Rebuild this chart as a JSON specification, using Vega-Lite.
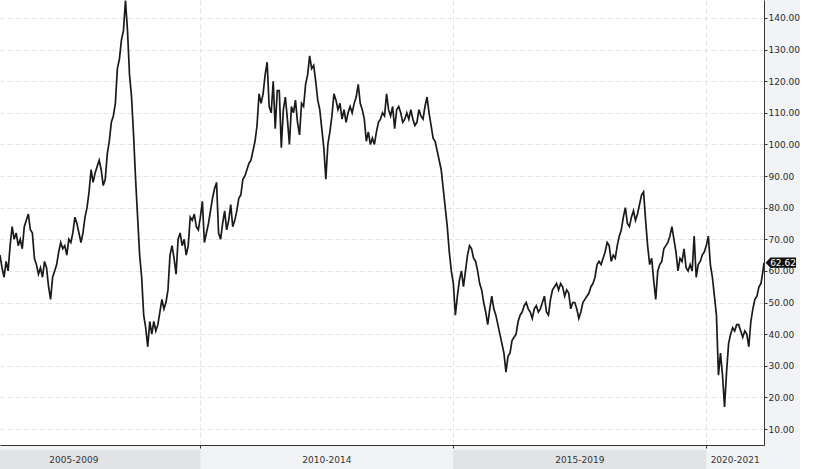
{
  "$schema": "https://vega.github.io/schema/vega-lite/v6.json",
  "background": "#f2f3f5",
  "padding": 0,
  "spacing": 1,
  "config": {
    "font": "DejaVu Sans",
    "axis": {"labelFont": "DejaVu Sans", "labelFontSize": 9, "labelColor": "#2b2b2b", "title": null, "labelOverlap": false, "labelSeparation": 0}
  },
  "datasets": {
    "brent": [
      {"t": 2006.04, "v": 65}, {"t": 2006.08, "v": 61}, {"t": 2006.12, "v": 58}, {"t": 2006.16, "v": 63}, {"t": 2006.20, "v": 60},
      {"t": 2006.24, "v": 68}, {"t": 2006.28, "v": 74}, {"t": 2006.32, "v": 70}, {"t": 2006.36, "v": 72}, {"t": 2006.40, "v": 68},
      {"t": 2006.44, "v": 70}, {"t": 2006.48, "v": 67}, {"t": 2006.52, "v": 74}, {"t": 2006.56, "v": 76}, {"t": 2006.60, "v": 78},
      {"t": 2006.64, "v": 73}, {"t": 2006.68, "v": 72}, {"t": 2006.72, "v": 64}, {"t": 2006.76, "v": 62}, {"t": 2006.80, "v": 59},
      {"t": 2006.84, "v": 61}, {"t": 2006.88, "v": 58}, {"t": 2006.92, "v": 63}, {"t": 2006.96, "v": 61},
      {"t": 2007.00, "v": 55}, {"t": 2007.04, "v": 51}, {"t": 2007.08, "v": 58}, {"t": 2007.12, "v": 60}, {"t": 2007.16, "v": 62},
      {"t": 2007.20, "v": 66}, {"t": 2007.24, "v": 69}, {"t": 2007.28, "v": 67}, {"t": 2007.32, "v": 68}, {"t": 2007.36, "v": 65},
      {"t": 2007.40, "v": 70}, {"t": 2007.44, "v": 69}, {"t": 2007.48, "v": 72}, {"t": 2007.52, "v": 77}, {"t": 2007.56, "v": 75},
      {"t": 2007.60, "v": 72}, {"t": 2007.64, "v": 69}, {"t": 2007.68, "v": 72}, {"t": 2007.72, "v": 77}, {"t": 2007.76, "v": 80},
      {"t": 2007.80, "v": 85}, {"t": 2007.84, "v": 92}, {"t": 2007.88, "v": 88}, {"t": 2007.92, "v": 91}, {"t": 2007.96, "v": 93},
      {"t": 2008.00, "v": 95}, {"t": 2008.04, "v": 92}, {"t": 2008.08, "v": 87}, {"t": 2008.12, "v": 89}, {"t": 2008.16, "v": 97},
      {"t": 2008.20, "v": 101}, {"t": 2008.24, "v": 107}, {"t": 2008.28, "v": 109}, {"t": 2008.32, "v": 113}, {"t": 2008.36, "v": 124},
      {"t": 2008.40, "v": 127}, {"t": 2008.44, "v": 133}, {"t": 2008.48, "v": 136}, {"t": 2008.52, "v": 145.5}, {"t": 2008.56, "v": 136},
      {"t": 2008.60, "v": 122}, {"t": 2008.64, "v": 115}, {"t": 2008.68, "v": 103}, {"t": 2008.72, "v": 89}, {"t": 2008.76, "v": 77},
      {"t": 2008.80, "v": 65}, {"t": 2008.84, "v": 58}, {"t": 2008.88, "v": 46}, {"t": 2008.92, "v": 42}, {"t": 2008.96, "v": 36},
      {"t": 2009.00, "v": 44}, {"t": 2009.04, "v": 40}, {"t": 2009.08, "v": 44}, {"t": 2009.12, "v": 41}, {"t": 2009.16, "v": 43},
      {"t": 2009.20, "v": 47}, {"t": 2009.24, "v": 51}, {"t": 2009.28, "v": 48}, {"t": 2009.32, "v": 50}, {"t": 2009.36, "v": 54},
      {"t": 2009.40, "v": 65}, {"t": 2009.44, "v": 68}, {"t": 2009.48, "v": 64}, {"t": 2009.52, "v": 59}, {"t": 2009.56, "v": 70},
      {"t": 2009.60, "v": 72}, {"t": 2009.64, "v": 68}, {"t": 2009.68, "v": 70}, {"t": 2009.72, "v": 65}, {"t": 2009.76, "v": 68},
      {"t": 2009.80, "v": 77}, {"t": 2009.84, "v": 76}, {"t": 2009.88, "v": 78}, {"t": 2009.92, "v": 74}, {"t": 2009.96, "v": 73},
      {"t": 2010.00, "v": 77}, {"t": 2010.04, "v": 82}, {"t": 2010.08, "v": 69}, {"t": 2010.12, "v": 72}, {"t": 2010.16, "v": 75},
      {"t": 2010.20, "v": 79}, {"t": 2010.24, "v": 83}, {"t": 2010.28, "v": 86}, {"t": 2010.32, "v": 88}, {"t": 2010.36, "v": 72},
      {"t": 2010.40, "v": 70}, {"t": 2010.44, "v": 75}, {"t": 2010.48, "v": 79}, {"t": 2010.52, "v": 73}, {"t": 2010.56, "v": 76},
      {"t": 2010.60, "v": 81}, {"t": 2010.64, "v": 74}, {"t": 2010.68, "v": 76}, {"t": 2010.72, "v": 79}, {"t": 2010.76, "v": 83},
      {"t": 2010.80, "v": 84}, {"t": 2010.84, "v": 89}, {"t": 2010.88, "v": 90}, {"t": 2010.92, "v": 92}, {"t": 2010.96, "v": 94},
      {"t": 2011.00, "v": 95}, {"t": 2011.04, "v": 98}, {"t": 2011.08, "v": 101}, {"t": 2011.12, "v": 106}, {"t": 2011.16, "v": 116},
      {"t": 2011.20, "v": 113}, {"t": 2011.24, "v": 116}, {"t": 2011.28, "v": 122}, {"t": 2011.32, "v": 126}, {"t": 2011.36, "v": 112},
      {"t": 2011.40, "v": 110}, {"t": 2011.44, "v": 120}, {"t": 2011.48, "v": 105}, {"t": 2011.52, "v": 117}, {"t": 2011.56, "v": 117},
      {"t": 2011.60, "v": 99}, {"t": 2011.64, "v": 111}, {"t": 2011.68, "v": 115}, {"t": 2011.72, "v": 108}, {"t": 2011.76, "v": 100},
      {"t": 2011.80, "v": 112}, {"t": 2011.84, "v": 110}, {"t": 2011.88, "v": 114}, {"t": 2011.92, "v": 107}, {"t": 2011.96, "v": 103},
      {"t": 2012.00, "v": 113}, {"t": 2012.04, "v": 112}, {"t": 2012.08, "v": 119}, {"t": 2012.12, "v": 122}, {"t": 2012.16, "v": 128},
      {"t": 2012.20, "v": 124}, {"t": 2012.24, "v": 125}, {"t": 2012.28, "v": 120}, {"t": 2012.32, "v": 114}, {"t": 2012.36, "v": 111},
      {"t": 2012.40, "v": 105}, {"t": 2012.44, "v": 99}, {"t": 2012.48, "v": 89}, {"t": 2012.52, "v": 100}, {"t": 2012.56, "v": 104},
      {"t": 2012.60, "v": 109}, {"t": 2012.64, "v": 116}, {"t": 2012.68, "v": 114}, {"t": 2012.72, "v": 111}, {"t": 2012.76, "v": 113},
      {"t": 2012.80, "v": 108}, {"t": 2012.84, "v": 111}, {"t": 2012.88, "v": 107}, {"t": 2012.92, "v": 110}, {"t": 2012.96, "v": 112},
      {"t": 2013.00, "v": 110}, {"t": 2013.04, "v": 113}, {"t": 2013.08, "v": 115}, {"t": 2013.12, "v": 119}, {"t": 2013.16, "v": 113},
      {"t": 2013.20, "v": 111}, {"t": 2013.24, "v": 108}, {"t": 2013.28, "v": 101}, {"t": 2013.32, "v": 104}, {"t": 2013.36, "v": 100},
      {"t": 2013.40, "v": 102}, {"t": 2013.44, "v": 100}, {"t": 2013.48, "v": 104}, {"t": 2013.52, "v": 107}, {"t": 2013.56, "v": 108},
      {"t": 2013.60, "v": 110}, {"t": 2013.64, "v": 109}, {"t": 2013.68, "v": 116}, {"t": 2013.72, "v": 111}, {"t": 2013.76, "v": 109},
      {"t": 2013.80, "v": 112}, {"t": 2013.84, "v": 105}, {"t": 2013.88, "v": 111}, {"t": 2013.92, "v": 112}, {"t": 2013.96, "v": 110},
      {"t": 2014.00, "v": 107}, {"t": 2014.04, "v": 108}, {"t": 2014.08, "v": 110}, {"t": 2014.12, "v": 108}, {"t": 2014.16, "v": 111},
      {"t": 2014.20, "v": 108}, {"t": 2014.24, "v": 106}, {"t": 2014.28, "v": 107}, {"t": 2014.32, "v": 111}, {"t": 2014.36, "v": 109},
      {"t": 2014.40, "v": 108}, {"t": 2014.44, "v": 112}, {"t": 2014.48, "v": 115}, {"t": 2014.52, "v": 110}, {"t": 2014.56, "v": 106},
      {"t": 2014.60, "v": 102}, {"t": 2014.64, "v": 101}, {"t": 2014.68, "v": 98}, {"t": 2014.72, "v": 95}, {"t": 2014.76, "v": 92},
      {"t": 2014.80, "v": 86}, {"t": 2014.84, "v": 80}, {"t": 2014.88, "v": 74}, {"t": 2014.92, "v": 66}, {"t": 2014.96, "v": 60},
      {"t": 2015.00, "v": 56}, {"t": 2015.04, "v": 46}, {"t": 2015.08, "v": 52}, {"t": 2015.12, "v": 57}, {"t": 2015.16, "v": 60},
      {"t": 2015.20, "v": 55}, {"t": 2015.24, "v": 60}, {"t": 2015.28, "v": 65}, {"t": 2015.32, "v": 68}, {"t": 2015.36, "v": 67},
      {"t": 2015.40, "v": 64}, {"t": 2015.44, "v": 63}, {"t": 2015.48, "v": 60}, {"t": 2015.52, "v": 56}, {"t": 2015.56, "v": 54},
      {"t": 2015.60, "v": 50}, {"t": 2015.64, "v": 47}, {"t": 2015.68, "v": 43}, {"t": 2015.72, "v": 48}, {"t": 2015.76, "v": 52},
      {"t": 2015.80, "v": 48}, {"t": 2015.84, "v": 46}, {"t": 2015.88, "v": 43}, {"t": 2015.92, "v": 40}, {"t": 2015.96, "v": 37},
      {"t": 2016.00, "v": 34}, {"t": 2016.04, "v": 28}, {"t": 2016.08, "v": 33}, {"t": 2016.12, "v": 34}, {"t": 2016.16, "v": 38},
      {"t": 2016.20, "v": 39}, {"t": 2016.24, "v": 40}, {"t": 2016.28, "v": 44}, {"t": 2016.32, "v": 46}, {"t": 2016.36, "v": 47},
      {"t": 2016.40, "v": 49}, {"t": 2016.44, "v": 50}, {"t": 2016.48, "v": 48}, {"t": 2016.52, "v": 47}, {"t": 2016.56, "v": 45},
      {"t": 2016.60, "v": 48}, {"t": 2016.64, "v": 49}, {"t": 2016.68, "v": 47}, {"t": 2016.72, "v": 48}, {"t": 2016.76, "v": 50},
      {"t": 2016.80, "v": 52}, {"t": 2016.84, "v": 47}, {"t": 2016.88, "v": 46}, {"t": 2016.92, "v": 51}, {"t": 2016.96, "v": 54},
      {"t": 2017.00, "v": 55}, {"t": 2017.04, "v": 56}, {"t": 2017.08, "v": 54}, {"t": 2017.12, "v": 56}, {"t": 2017.16, "v": 55},
      {"t": 2017.20, "v": 52}, {"t": 2017.24, "v": 54}, {"t": 2017.28, "v": 53}, {"t": 2017.32, "v": 48}, {"t": 2017.36, "v": 50},
      {"t": 2017.40, "v": 50}, {"t": 2017.44, "v": 48}, {"t": 2017.48, "v": 45}, {"t": 2017.52, "v": 47}, {"t": 2017.56, "v": 50},
      {"t": 2017.60, "v": 51}, {"t": 2017.64, "v": 52}, {"t": 2017.68, "v": 53}, {"t": 2017.72, "v": 55}, {"t": 2017.76, "v": 56},
      {"t": 2017.80, "v": 58}, {"t": 2017.84, "v": 62}, {"t": 2017.88, "v": 63}, {"t": 2017.92, "v": 62}, {"t": 2017.96, "v": 64},
      {"t": 2018.00, "v": 66}, {"t": 2018.04, "v": 69}, {"t": 2018.08, "v": 68}, {"t": 2018.12, "v": 63}, {"t": 2018.16, "v": 65},
      {"t": 2018.20, "v": 64}, {"t": 2018.24, "v": 68}, {"t": 2018.28, "v": 71}, {"t": 2018.32, "v": 73}, {"t": 2018.36, "v": 77},
      {"t": 2018.40, "v": 80}, {"t": 2018.44, "v": 75}, {"t": 2018.48, "v": 74}, {"t": 2018.52, "v": 77}, {"t": 2018.56, "v": 79},
      {"t": 2018.60, "v": 76}, {"t": 2018.64, "v": 78}, {"t": 2018.68, "v": 81}, {"t": 2018.72, "v": 84}, {"t": 2018.76, "v": 85},
      {"t": 2018.80, "v": 76}, {"t": 2018.84, "v": 68}, {"t": 2018.88, "v": 62}, {"t": 2018.92, "v": 64}, {"t": 2018.96, "v": 57},
      {"t": 2019.00, "v": 51}, {"t": 2019.04, "v": 60}, {"t": 2019.08, "v": 62}, {"t": 2019.12, "v": 63}, {"t": 2019.16, "v": 67},
      {"t": 2019.20, "v": 68}, {"t": 2019.24, "v": 69}, {"t": 2019.28, "v": 71}, {"t": 2019.32, "v": 74}, {"t": 2019.36, "v": 70},
      {"t": 2019.40, "v": 66}, {"t": 2019.44, "v": 60}, {"t": 2019.48, "v": 64}, {"t": 2019.52, "v": 63}, {"t": 2019.56, "v": 67},
      {"t": 2019.60, "v": 61}, {"t": 2019.64, "v": 60}, {"t": 2019.68, "v": 62}, {"t": 2019.72, "v": 60}, {"t": 2019.76, "v": 71},
      {"t": 2019.80, "v": 58}, {"t": 2019.84, "v": 62}, {"t": 2019.88, "v": 63}, {"t": 2019.92, "v": 65}, {"t": 2019.96, "v": 66},
      {"t": 2020.00, "v": 68}, {"t": 2020.04, "v": 71}, {"t": 2020.08, "v": 62}, {"t": 2020.12, "v": 58}, {"t": 2020.16, "v": 52},
      {"t": 2020.20, "v": 46}, {"t": 2020.24, "v": 27}, {"t": 2020.28, "v": 34}, {"t": 2020.32, "v": 27}, {"t": 2020.36, "v": 17},
      {"t": 2020.40, "v": 28}, {"t": 2020.44, "v": 37}, {"t": 2020.48, "v": 40}, {"t": 2020.52, "v": 42}, {"t": 2020.56, "v": 41},
      {"t": 2020.60, "v": 43}, {"t": 2020.64, "v": 43}, {"t": 2020.68, "v": 41}, {"t": 2020.72, "v": 39}, {"t": 2020.76, "v": 41},
      {"t": 2020.80, "v": 40}, {"t": 2020.84, "v": 36}, {"t": 2020.88, "v": 44}, {"t": 2020.92, "v": 48}, {"t": 2020.96, "v": 51},
      {"t": 2021.00, "v": 52}, {"t": 2021.04, "v": 55}, {"t": 2021.08, "v": 56}, {"t": 2021.12, "v": 60}, {"t": 2021.14, "v": 62.62}
    ],
    "last": [
      {"t": 2021.14, "v": 62.62, "label": "62.62"}
    ],
    "bands": [
      {"start": 2005, "end": 2010},
      {"start": 2015, "end": 2020}
    ],
    "bandLabels": [
      {"t": 2007.5, "label": "2005-2009"},
      {"t": 2012.5, "label": "2010-2014"},
      {"t": 2017.5, "label": "2015-2019"},
      {"t": 2020.57, "label": "2020-2021"}
    ]
  },
  "resolve": {"scale": {"x": "independent"}},
  "vconcat": [
    {
      "width": 764,
      "height": 445,
      "view": {"fill": "#ffffff", "stroke": null},
      "encoding": {
        "x": {
          "field": "t", "type": "quantitative",
          "scale": {"domain": [2006.04, 2021.14], "nice": false, "zero": false},
          "axis": {
            "values": [2010, 2015, 2020], "labels": false, "tickSize": 3,
            "tickColor": "#333333", "domainColor": "#333333",
            "grid": true, "gridColor": "#e4e4e4", "gridDash": [5, 3]
          }
        },
        "y": {
          "field": "v", "type": "quantitative",
          "scale": {"domain": [4.94, 145.69], "nice": false, "zero": false},
          "axis": {
            "orient": "right",
            "values": [10, 20, 30, 40, 50, 60, 70, 80, 90, 100, 110, 120, 130, 140],
            "format": ".2f", "tickSize": 3, "labelPadding": 1, "labelOverlap": false,
            "tickColor": "#333333", "domainColor": "#333333",
            "grid": true, "gridColor": "#e4e4e4", "gridDash": [5, 3]
          }
        }
      },
      "layer": [
        {
          "data": {"name": "brent"},
          "mark": {"type": "line", "color": "#1a1a1a", "strokeWidth": 1.7, "clip": true}
        },
        {
          "data": {"name": "last"},
          "mark": {
            "type": "point", "filled": true, "color": "#111111", "opacity": 1, "size": 4096, "clip": false,
            "shape": "M0.05,0 L0.2,-0.16 L1,-0.16 L1,0.16 L0.2,0.16 Z"
          }
        },
        {
          "data": {"name": "last"},
          "mark": {"type": "text", "color": "#ffffff", "fontSize": 9, "dx": 19, "align": "center", "baseline": "middle", "clip": false},
          "encoding": {
            "text": {"field": "label"}
          }
        }
      ]
    },
    {
      "width": 764,
      "height": 19,
      "view": {"stroke": null},
      "layer": [
        {
          "data": {"name": "bands"},
          "mark": {"type": "rect", "color": "#e2e3e5", "clip": true},
          "encoding": {
            "x": {
              "field": "start", "type": "quantitative",
              "scale": {"domain": [2006.04, 2021.14], "nice": false, "zero": false},
              "axis": null
            },
            "x2": {"field": "end"}
          }
        },
        {
          "data": {"name": "bandLabels"},
          "mark": {"type": "text", "color": "#333333", "fontSize": 9, "align": "center", "baseline": "middle"},
          "encoding": {
            "x": {"field": "t", "type": "quantitative"},
            "text": {"field": "label"}
          }
        }
      ]
    }
  ]
}
